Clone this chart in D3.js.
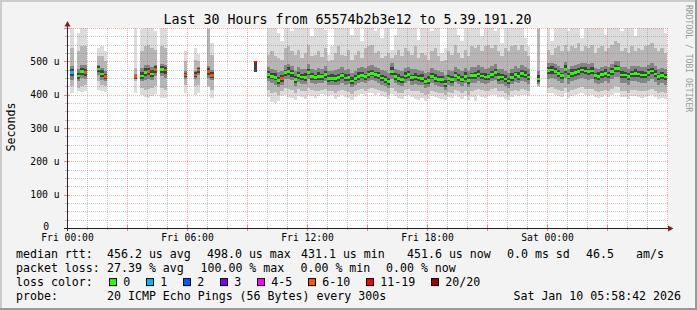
<!DOCTYPE html>
<html>
<head>
<meta charset="utf-8">
<script src="https://cdn.jsdelivr.net/npm/d3@7"></script>
<style>
  html, body { margin: 0; padding: 0; background: #f3f3f3; }
  svg { display: block; }
  text { font-family: "DejaVu Sans Mono", monospace; fill: #000; white-space: pre; }
</style>
</head>
<body>
<div id="chart"></div>
<script>
const _ = null;

const titleText = 'Last 30 Hours from 65574b2b3e12 to 5.39.191.20';
const yTitle = 'Seconds';
const sideText = 'RRDTOOL / TOBI OETIKER';

// one column per 10 minute step, starting Fri 00:00, values in microseconds
const median = [
  _, 466, _, 456, 469, 466, _, _, _, 477,   462, 454, _, _, _, _, _, _, _, _,
  454, _, 456, 467, 469, 462, 476, _, 476, 474,   _, _, _, _, _, 459, _, _, 459, 474,
  _, _, 469, 457, _, _, _, _, _, _,   _, _, _, _, _, _, 498, _, _, _,
  460, 455, 452, 442, 448, 466, 469, 465, 445, 458,   453, 452, 467, 455, 452, 455, 454, 460, 449, 449,
  449, 451, 457, 450, 452, 441, 449, 455, 458, 455,   460, 464, 460, 457, 450, 446, 440, 470, 455, 449,
  446, 456, 460, 451, 453, 450, 449, 440, 443, 455,   449, 446, 445, 432, 449, 446, 458, 452, 446, 455,
  442, 457, 457, 462, 456, 453, 454, 460, 466, 452,   453, 447, 441, 452, 460, 455, 463, 459, 453, _,
  _, 447, _, _, 472, 474, 470, 463, 457, 476,   455, 464, 467, 469, 474, 471, 469, 471, 457, 455,
  460, 464, 459, 469, 479, 478, 459, 459, 454, 462,   464, 462, 459, 459, 466, 471, 462, 454, 457, 453
];

// lost pings out of 20 for each column
const loss = [
  _, 1, _, 0, 0, 7, _, _, _, 0,   0, 7, _, _, _, _, _, _, _, _,
  9, _, 0, 0, 6, 0, 7, _, 0, 6,   _, _, _, _, _, 8, _, _, 8, 8,
  _, _, 8, 9, _, _, _, _, _, _,   _, _, _, _, _, _, 15, _, _, _,
  0, 0, 0, 0, 6, 0, 0, 0, 0, 0,   0, 0, 0, 0, 0, 0, 0, 0, 0, 0,
  0, 0, 0, 0, 0, 0, 0, 0, 0, 0,   0, 0, 0, 0, 0, 0, 0, 0, 0, 0,
  0, 0, 0, 0, 0, 0, 0, 0, 0, 0,   0, 0, 0, 0, 0, 0, 0, 0, 0, 0,
  0, 0, 0, 0, 0, 0, 0, 0, 0, 0,   0, 0, 0, 0, 0, 0, 0, 0, 0, _,
  _, 0, _, _, 0, 0, 0, 0, 0, 0,   0, 0, 0, 0, 0, 0, 0, 0, 0, 0,
  0, 0, 0, 0, 0, 0, 0, 0, 0, 0,   0, 0, 0, 0, 0, 0, 0, 0, 0, 0
];

// outer smoke (slowest / fastest pings)
const rttMax = [
  _, 600, _, 585, 610, 610, _, _, _, 540,   545, 530, _, _, _, _, _, _, _, _,
  610, _, 598, 610, 610, 610, 590, _, 610, 610,   _, _, _, _, _, 531, _, _, 541, 521,
  _, _, 610, 554, _, _, _, _, _, _,   _, _, _, _, _, _, 501, _, _, _,
  600, 610, 610, 585, 560, 610, 610, 590, 610, 610,   600, 610, 610, 575, 610, 610, 610, 595, 520, 545,
  610, 610, 600, 610, 610, 580, 610, 610, 560, 610,   610, 610, 590, 610, 570, 610, 610, 535, 580, 610,
  610, 610, 600, 610, 610, 565, 610, 610, 610, 590,   610, 610, 525, 540, 610, 610, 610, 580, 560, 610,
  610, 600, 610, 610, 575, 610, 610, 610, 590, 610,   555, 610, 610, 610, 610, 600, 610, 570, 545, _,
  _, 610, _, _, 610, 560, 610, 610, 610, 610,   590, 610, 610, 610, 570, 610, 610, 600, 610, 610,
  610, 580, 610, 610, 610, 610, 590, 610, 610, 610,   575, 610, 610, 610, 610, 600, 610, 610, 610, 585
];
const rttMin = [
  _, 406, _, 410, 408, 412, _, _, _, 415,   410, 408, _, _, _, _, _, _, _, _,
  405, _, 400, 392, 390, 395, 402, _, 390, 389,   _, _, _, _, _, 404, _, _, 399, 404,
  _, _, 424, 391, _, _, _, _, _, _,   _, _, _, _, _, _, 469, _, _, _,
  392, 378, 374, 380, 395, 398, 392, 390, 385, 396,   393, 388, 400, 395, 390, 396, 402, 398, 395, 400,
  388, 394, 398, 392, 390, 384, 394, 398, 402, 396,   404, 405, 400, 404, 396, 392, 386, 402, 396, 390,
  388, 396, 400, 392, 386, 384, 390, 382, 388, 396,   392, 390, 388, 385, 392, 390, 400, 394, 388, 396,
  384, 392, 380, 398, 394, 390, 395, 398, 400, 392,   392, 388, 384, 392, 398, 395, 400, 398, 396, _,
  _, 424, _, _, 405, 406, 400, 396, 392, 404,   390, 396, 400, 402, 404, 400, 396, 398, 392, 390,
  394, 398, 392, 400, 406, 404, 392, 394, 388, 396,   396, 394, 390, 392, 396, 400, 394, 388, 390, 388
];

// middle smoke
const rttHi = [
  _, 540, _, 530, 545, 545, _, _, _, 515,   515, 500, _, _, _, _, _, _, _, _,
  480, _, 530, 545, 550, 540, 535, _, 545, 540,   _, _, _, _, _, 500, _, _, 505, 500,
  _, _, 598, 520, _, _, _, _, _, _,   _, _, _, _, _, _, 501, _, _, _,
  520, 530, 515, 510, 505, 540, 545, 530, 520, 535,   510, 525, 550, 515, 520, 530, 512, 540, 500, 505,
  525, 545, 520, 515, 535, 505, 520, 530, 510, 540,   545, 550, 525, 530, 510, 515, 525, 510, 520, 535,
  515, 540, 530, 520, 545, 510, 525, 520, 505, 530,   540, 515, 500, 505, 530, 520, 550, 525, 510, 535,
  515, 545, 540, 550, 530, 545, 550, 540, 548, 530,   515, 540, 530, 545, 550, 535, 548, 530, 515, _,
  _, 598, _, _, 535, 520, 540, 545, 530, 550,   530, 545, 540, 555, 530, 545, 540, 550, 525, 540,
  545, 530, 540, 550, 560, 555, 530, 540, 525, 545,   530, 540, 535, 545, 550, 555, 540, 530, 540, 525
];
const rttLo = [
  _, 425, _, 420, 425, 430, _, _, _, 440,   430, 425, _, _, _, _, _, _, _, _,
  440, _, 420, 415, 418, 420, 425, _, 420, 415,   _, _, _, _, _, 430, _, _, 425, 430,
  _, _, 425, 415, _, _, _, _, _, _,   _, _, _, _, _, _, 469, _, _, _,
  415, 405, 408, 400, 410, 420, 418, 415, 405, 418,   412, 410, 420, 414, 410, 412, 415, 418, 410, 412,
  406, 410, 414, 410, 408, 402, 410, 414, 418, 412,   418, 420, 418, 415, 410, 408, 400, 420, 412, 405,
  404, 414, 418, 410, 412, 410, 406, 398, 402, 412,   408, 405, 404, 400, 408, 406, 415, 410, 405, 412,
  400, 412, 414, 418, 414, 410, 412, 416, 420, 410,   410, 405, 400, 410, 415, 412, 418, 415, 410, _,
  _, 425, _, _, 420, 422, 418, 415, 410, 420,   408, 414, 418, 420, 422, 418, 416, 418, 410, 408,
  412, 415, 410, 418, 425, 422, 410, 412, 406, 414,   414, 412, 410, 410, 415, 418, 412, 406, 408, 405
];

// inner smoke
const coreHi = [
  _, 485, _, 478, 490, 488, _, _, _, 490,   480, 470, _, _, _, _, _, _, _, _,
  462, _, 480, 490, 488, 482, 490, _, 492, 488,   _, _, _, _, _, 470, _, _, 472, 482,
  _, _, 485, 475, _, _, _, _, _, _,   _, _, _, _, _, _, 501, _, _, _,
  482, 478, 474, 468, 470, 490, 492, 486, 470, 482,   476, 478, 492, 478, 475, 480, 476, 485, 470, 472,
  474, 478, 482, 474, 478, 465, 472, 480, 482, 480,   486, 490, 484, 480, 474, 470, 466, 494, 478, 474,
  470, 480, 484, 476, 478, 474, 472, 465, 468, 480,   474, 470, 468, 458, 474, 470, 484, 478, 470, 480,
  470, 482, 484, 488, 482, 478, 480, 486, 492, 478,   477, 472, 466, 478, 486, 480, 488, 484, 476, _,
  _, 470, _, _, 494, 496, 492, 486, 480, 498,   478, 486, 490, 492, 496, 494, 492, 494, 480, 478,
  484, 486, 482, 492, 502, 500, 482, 482, 476, 486,   486, 485, 482, 482, 490, 494, 485, 476, 480, 476
];
const coreLo = [
  _, 445, _, 440, 450, 448, _, _, _, 460,   445, 440, _, _, _, _, _, _, _, _,
  446, _, 442, 445, 446, 444, 455, _, 455, 450,   _, _, _, _, _, 448, _, _, 448, 460,
  _, _, 450, 445, _, _, _, _, _, _,   _, _, _, _, _, _, 469, _, _, _,
  440, 434, 430, 422, 428, 446, 448, 444, 426, 438,   432, 432, 446, 434, 432, 434, 434, 440, 430, 430,
  428, 430, 436, 430, 432, 422, 428, 434, 438, 434,   440, 444, 440, 436, 430, 426, 420, 448, 434, 428,
  426, 436, 440, 430, 432, 430, 428, 420, 422, 434,   428, 426, 424, 414, 428, 426, 438, 432, 426, 434,
  422, 436, 436, 440, 436, 432, 434, 440, 444, 432,   432, 426, 420, 432, 438, 434, 442, 438, 432, _,
  _, 432, _, _, 448, 450, 446, 440, 434, 450,   432, 440, 444, 446, 450, 446, 444, 446, 434, 432,
  436, 440, 436, 446, 454, 452, 436, 436, 430, 440,   440, 438, 436, 436, 442, 446, 438, 430, 434, 430
];

// darkest smoke, right around the median
const darkHi = [
  _, 478, _, 466, 481, 477, _, _, _, 486,   473, 463, _, _, _, _, _, _, _, _,
  460, _, 468, 479, 480, 474, 486, _, 487, 484,   _, _, _, _, _, 466, _, _, 467, 480,
  _, _, 480, 467, _, _, _, _, _, _,   _, _, _, _, _, _, 501, _, _, _,
  472, 464, 466, 452, 459, 474, 482, 475, 456, 468,   461, 465, 477, 466, 460, 468, 463, 472, 458, 461,
  459, 463, 466, 462, 461, 453, 458, 467, 468, 463,   472, 474, 469, 468, 460, 457, 450, 482, 464, 461,
  455, 468, 470, 460, 465, 459, 461, 450, 455, 464,   461, 455, 457, 444, 458, 457, 469, 463, 455, 467,
  453, 466, 469, 473, 465, 465, 463, 472, 476, 464,   462, 459, 450, 464, 469, 467, 473, 470, 462, _,
  _, 458, _, _, 483, 486, 479, 475, 466, 488,   464, 476, 477, 481, 483, 483, 478, 483, 466, 467,
  470, 476, 468, 481, 490, 487, 471, 468, 466, 471,   476, 471, 471, 468, 478, 480, 474, 463, 469, 462
];
const darkLo = [
  _, 455, _, 446, 458, 455, _, _, _, 468,   452, 446, _, _, _, _, _, _, _, _,
  448, _, 447, 456, 458, 452, 466, _, 465, 463,   _, _, _, _, _, 452, _, _, 452, 466,
  _, _, 458, 449, _, _, _, _, _, _,   _, _, _, _, _, _, 469, _, _, _,
  449, 446, 443, 432, 437, 456, 459, 454, 436, 447,   444, 441, 458, 444, 443, 445, 444, 451, 439, 440,
  438, 441, 448, 440, 442, 431, 440, 444, 449, 445,   450, 455, 449, 447, 441, 436, 430, 460, 445, 439,
  436, 446, 451, 441, 443, 440, 438, 431, 433, 446,   439, 437, 434, 423, 440, 436, 449, 442, 437, 445,
  432, 448, 446, 452, 447, 443, 445, 450, 457, 442,   444, 437, 432, 442, 451, 445, 454, 449, 444, _,
  _, 438, _, _, 462, 463, 461, 453, 448, 465,   446, 454, 457, 459, 465, 461, 460, 461, 448, 445,
  451, 454, 450, 459, 469, 468, 449, 450, 444, 453,   454, 453, 449, 450, 456, 462, 452, 445, 447, 444
];

const yTicks = [0, 100, 200, 300, 400, 500];
const yTickLabels = ['0', '100 u', '200 u', '300 u', '400 u', '500 u'];

const rttLegend = ['456.2 us avg', '498.0 us max', '431.1 us min', '451.6 us now', '0.0 ms sd', '46.5', 'am/s'];
const lossLegend = ['27.39 % avg', '100.00 % max', '0.00 % min', '0.00 % now'];
const lossBins = ['0', '1', '2', '3', '4-5', '6-10', '11-19', '20/20'];
const lossBinMax = [0, 1, 2, 3, 5, 10, 19, 20];
const lossColors = ['#26ff00', '#00b8ff', '#0059ff', '#7e00ff', '#ff00ff', '#ff5500', '#ff0000', '#a00000'];
const probeText = '20 ICMP Echo Pings (56 Bytes) every 300s';
const stampText = 'Sat Jan 10 05:58:42 2026';

//************** SETUP ******************//
const width = 697, height = 310;
const plotLeft = 67, plotRight = 667, plotTop = 28, plotBottom = 228;
const t0 = new Date(2026, 0, 9, 0, 0, 0);
const t1 = new Date(2026, 0, 10, 6, 0, 0);
const stepMs = 10 * 60 * 1000;
const stepTime = i => new Date(t0.getTime() + i * stepMs);
const crisp = v => Math.round(v) + 0.5;

const svg = d3.select('#chart').append('svg')
    .attr('width', width)
    .attr('height', height)
    .attr('viewBox', `0 0 ${width} ${height}`);

const x = d3.scaleTime().domain([t0, t1]).range([plotLeft, plotRight]);
const y = d3.scaleLinear().domain([0, 600]).range([plotBottom, plotTop]);

// background and 3d frame
svg.append('rect').attr('width', width).attr('height', height).attr('fill', '#f3f3f3');
svg.append('path').attr('d', `M0,1H${width}M1,0V${height}`).attr('stroke', '#cbcbcb').attr('stroke-width', 2);
svg.append('path').attr('d', `M0,${height - 1}H${width}M${width - 1},0V${height}`).attr('stroke', '#999').attr('stroke-width', 2);

svg.append('rect')
    .attr('x', plotLeft).attr('y', plotTop)
    .attr('width', plotRight - plotLeft + 1).attr('height', plotBottom - plotTop)
    .attr('fill', '#fff');

svg.append('clipPath').attr('id', 'plotClip')
    .append('rect')
    .attr('x', plotLeft).attr('y', plotTop)
    .attr('width', plotRight - plotLeft + 1).attr('height', plotBottom - plotTop);

const plot = svg.append('g').attr('clip-path', 'url(#plotClip)');

//************** SMOKE ******************//
const cols = d3.range(median.length);
const bands = [
    {lo: rttMin, hi: rttMax, color: '#dcdcdc'},
    {lo: rttLo, hi: rttHi, color: '#b6b6b6'},
    {lo: coreLo, hi: coreHi, color: '#848484'},
    {lo: darkLo, hi: darkHi, color: '#414141'}
];

bands.forEach(b => {
    plot.append('g')
        .attr('shape-rendering', 'crispEdges')
        .selectAll('rect')
        .data(cols.filter(i => b.hi[i] != null))
        .join('rect')
        .attr('x', i => x(stepTime(i)))
        .attr('width', i => x(stepTime(i + 1)) - x(stepTime(i)))
        .attr('y', i => y(b.hi[i]))
        .attr('height', i => y(b.lo[i]) - y(b.hi[i]))
        .attr('fill', b.color);
});

//************** GRID ******************//
const grid = svg.append('g').attr('fill', 'none').attr('stroke-dasharray', '1,1');
const minorStroke = 'rgba(120,120,120,0.4)';
const majorStroke = 'rgba(255,70,70,0.45)';

x.ticks(d3.timeHour.every(1)).filter(t => t.getHours() % 3 !== 0).forEach(t => {
    grid.append('line')
        .attr('x1', crisp(x(t))).attr('x2', crisp(x(t)))
        .attr('y1', plotTop).attr('y2', plotBottom)
        .attr('stroke', minorStroke);
});
d3.range(25, 601, 25).filter(v => v % 100 !== 0).forEach(v => {
    grid.append('line')
        .attr('x1', plotLeft).attr('x2', plotRight + 1)
        .attr('y1', crisp(y(v))).attr('y2', crisp(y(v)))
        .attr('stroke', minorStroke);
});
x.ticks(d3.timeHour.every(3)).forEach(t => {
    grid.append('line')
        .attr('x1', crisp(x(t))).attr('x2', crisp(x(t)))
        .attr('y1', plotTop).attr('y2', plotBottom)
        .attr('stroke', majorStroke);
});
d3.range(100, 601, 100).forEach(v => {
    grid.append('line')
        .attr('x1', plotLeft).attr('x2', plotRight + 1)
        .attr('y1', crisp(y(v))).attr('y2', crisp(y(v)))
        .attr('stroke', majorStroke);
});

//************** MEDIAN ******************//
const lossColor = n => lossColors[lossBinMax.findIndex(m => n <= m)];

plot.append('g')
    .attr('shape-rendering', 'crispEdges')
    .selectAll('rect')
    .data(cols.filter(i => median[i] != null))
    .join('rect')
    .attr('x', i => x(stepTime(i)))
    .attr('width', i => x(stepTime(i + 1)) - x(stepTime(i)))
    .attr('y', i => y(median[i]) - 1.2)
    .attr('height', 2.5)
    .attr('fill', i => lossColor(loss[i]));

//************** AXES ******************//
const ticks = svg.append('g').attr('shape-rendering', 'crispEdges');
d3.range(25, 601, 25).forEach(v => {
    const major = v % 100 === 0;
    ticks.append('line')
        .attr('x1', plotLeft - (major ? 3 : 2)).attr('x2', plotLeft + (major ? 3 : 2))
        .attr('y1', crisp(y(v))).attr('y2', crisp(y(v)))
        .attr('stroke', major ? '#e88' : '#bbb');
});
x.ticks(d3.timeHour.every(1)).filter(t => t < t1).forEach(t => {
    const major = t.getHours() % 3 === 0;
    ticks.append('line')
        .attr('x1', crisp(x(t))).attr('x2', crisp(x(t)))
        .attr('y1', plotBottom - (major ? 3 : 2)).attr('y2', plotBottom + (major ? 3 : 2))
        .attr('stroke', major ? '#e88' : '#bbb');
});

svg.append('line')
    .attr('x1', plotLeft - 3).attr('x2', plotRight + 1)
    .attr('y1', plotBottom + 0.5).attr('y2', plotBottom + 0.5)
    .attr('stroke', '#222');
svg.append('line')
    .attr('x1', plotLeft + 0.5).attr('x2', plotLeft + 0.5)
    .attr('y1', plotBottom + 3).attr('y2', plotTop - 2)
    .attr('stroke', '#3a2626');

// arrows at the ends of the axes
svg.append('path')
    .attr('d', `M${plotLeft - 2.5},${plotTop - 1.5}L${plotLeft + 3.5},${plotTop - 1.5}L${plotLeft + 0.5},${plotTop - 7}Z`)
    .attr('fill', '#7f1f1f');
svg.append('path')
    .attr('d', `M${plotRight + 1},${plotBottom - 2.5}L${plotRight + 1},${plotBottom + 3.5}L${plotRight + 6.5},${plotBottom + 0.5}Z`)
    .attr('fill', '#7f1f1f');

const xAxis = svg.append('g')
    .attr('transform', `translate(0,${plotBottom})`)
    .call(d3.axisBottom(x)
        .tickValues(x.ticks(d3.timeHour.every(6)).filter(t => t < t1))
        .tickFormat(d3.timeFormat('%a %H:%M'))
        .tickSize(0)
        .tickPadding(6));
xAxis.select('.domain').remove();
xAxis.attr('font-family', null).attr('font-size', null);
xAxis.selectAll('text').style('font-size', '9.7px');

const yAxis = svg.append('g')
    .attr('transform', `translate(${plotLeft},0)`)
    .call(d3.axisLeft(y)
        .tickValues(yTicks)
        .tickFormat((d, i) => yTickLabels[i])
        .tickSize(0)
        .tickPadding(7.5));
yAxis.select('.domain').remove();
yAxis.attr('font-family', null).attr('font-size', null);
yAxis.selectAll('text')
    .style('font-size', '9.7px')
    .attr('dx', d => d === 0 ? -10.3 : 0)
    .attr('dy', d => d === 0 ? '0.15em' : '0.32em');

//************** TEXT ******************//
svg.append('text')
    .attr('x', 347.5).attr('y', 24)
    .attr('text-anchor', 'middle')
    .style('font-size', '13.3px')
    .text(titleText);

svg.append('text')
    .attr('transform', 'translate(14.5,127) rotate(-90)')
    .attr('text-anchor', 'middle')
    .style('font-size', '11.6px')
    .text(yTitle);

svg.append('text')
    .attr('transform', 'translate(685.5,5) rotate(90)')
    .style('font-size', '8.1px')
    .style('fill', '#9a9a9a')
    .text(sideText);

const legend = svg.append('g').style('font-size', '11.6px');
const rows = [258, 271.8, 285.6, 299.6];

legend.append('text').attr('x', 16).attr('y', rows[0]).text('median rtt:');
const rttX = [107, 207, 301, 407, 507, 586, 636];
rttLegend.forEach((s, i) => legend.append('text').attr('x', rttX[i]).attr('y', rows[0]).text(s));

legend.append('text').attr('x', 16).attr('y', rows[1]).text('packet loss:');
const lossX = [107, 200.5, 300.5, 386];
lossLegend.forEach((s, i) => legend.append('text').attr('x', lossX[i]).attr('y', rows[1]).text(s));

legend.append('text').attr('x', 16).attr('y', rows[2]).text('loss color:');
let bx = 109;
lossBins.forEach((s, i) => {
    legend.append('rect')
        .attr('x', bx + 0.5).attr('y', rows[2] - 7)
        .attr('width', 7).attr('height', 7)
        .attr('fill', lossColors[i])
        .attr('stroke', '#000');
    legend.append('text').attr('x', bx + 14.3).attr('y', rows[2]).text(s);
    bx += 30 + 7 * s.length;
});

legend.append('text').attr('x', 16).attr('y', rows[3]).text('probe:');
legend.append('text').attr('x', 107).attr('y', rows[3]).text(probeText);
legend.append('text').attr('x', 681).attr('y', rows[3]).attr('text-anchor', 'end').text(stampText);
</script>
</body>
</html>
